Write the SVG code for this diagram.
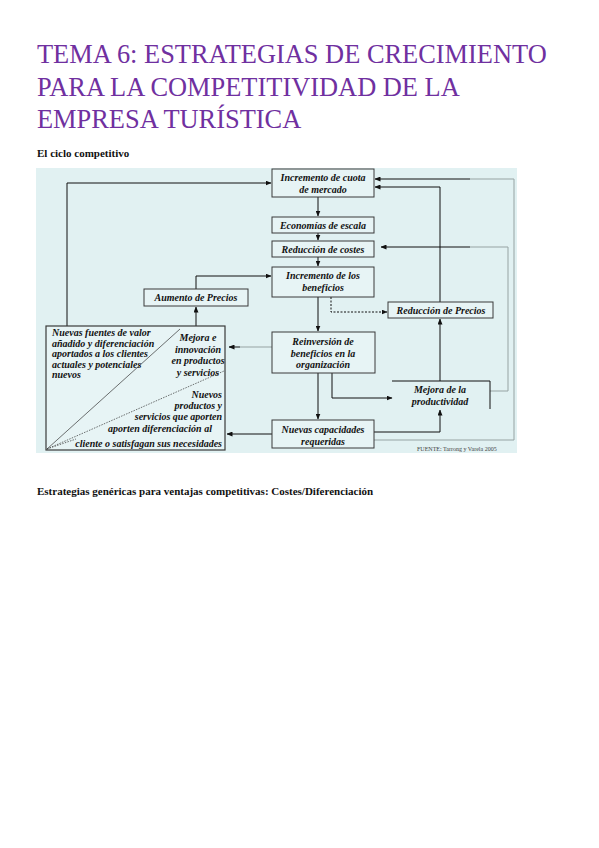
<svg xmlns="http://www.w3.org/2000/svg" width="599" height="848" viewBox="0 0 599 848">
<defs>
<marker id="ah" markerWidth="6" markerHeight="5" refX="5.5" refY="2.5" orient="auto" markerUnits="userSpaceOnUse">
<path d="M0,0 L6,2.5 L0,5 z" fill="#111"/>
</marker>
</defs>
<style>
.title{font-family:"Liberation Serif",serif;font-size:26.4px;fill:#7030a0}
.h{font-family:"Liberation Serif",serif;font-weight:bold;fill:#111}
.t{font-family:"Liberation Serif",serif;font-weight:bold;font-style:italic;font-size:10px;fill:#111}
.c{text-anchor:middle}
.r{text-anchor:end}
.box{fill:#e7f4f5;stroke:#3a3a3a;stroke-width:1}
.ln{fill:none;stroke:#111;stroke-width:1}
.gr{fill:none;stroke:#96a3a3;stroke-width:1}
.src{font-family:"Liberation Serif",serif;font-size:6px;fill:#444}
</style>
<rect width="599" height="848" fill="#ffffff"/>
<text class="title" x="37" y="63">TEMA 6: ESTRATEGIAS DE CRECIMIENTO</text>
<text class="title" x="37" y="96">PARA LA COMPETITIVIDAD DE LA</text>
<text class="title" x="37" y="128">EMPRESA TURÍSTICA</text>
<text class="h" x="37" y="157" font-size="11">El ciclo competitivo</text>
<text class="h" x="37" y="495" font-size="11">Estrategias genéricas para ventajas competitivas: Costes/Diferenciación</text>

<rect x="36" y="168" width="481" height="285" fill="#e1f1f2"/>

<g id="connectors">
<path class="ln" d="M67,326 V183 H271" marker-end="url(#ah)"/>
<path class="ln" d="M196,326 V307" marker-end="url(#ah)"/>
<path class="ln" d="M196,289 V276 H271" marker-end="url(#ah)"/>
<path class="ln" d="M318,197 V216" marker-end="url(#ah)"/>
<path class="ln" d="M318,233 V240" marker-end="url(#ah)"/>
<path class="ln" d="M318,257 V266" marker-end="url(#ah)"/>
<path class="ln" d="M318,297 V331" marker-end="url(#ah)"/>
<path class="ln" d="M331,297 V312 H387" stroke-dasharray="2,1.5" stroke="#777" marker-end="url(#ah)"/>
<path class="ln" d="M318,373 V419" marker-end="url(#ah)"/>
<path class="ln" d="M332,373 V398 H392" marker-end="url(#ah)"/>
<path class="ln" d="M374,432 H440 V410" marker-end="url(#ah)"/>
<path class="ln" d="M440,381 V319" marker-end="url(#ah)"/>
<path class="ln" d="M440,302 V187 H375" marker-end="url(#ah)"/>
<path class="gr" d="M374,440 H514 V179 H470"/>
<path class="ln" d="M470,179 H375" marker-end="url(#ah)"/>
<path class="gr" d="M490,391 H508 V247 H470"/>
<path class="ln" d="M470,247 H381" marker-end="url(#ah)"/>
<path class="gr" d="M272,347 H240"/>
<path class="ln" d="M240,347 H229" marker-end="url(#ah)"/>
<path class="ln" d="M272,434 H227" marker-end="url(#ah)"/>
</g>

<g id="n-cuota">
<rect class="box" x="272" y="169" width="102" height="28"/>
<text class="t c" x="323" y="181">Incremento de cuota</text>
<text class="t c" x="323" y="192.5">de mercado</text>
</g>
<g id="n-economias">
<rect class="box" x="272" y="217" width="102" height="16"/>
<text class="t c" x="323" y="228.5">Economías de escala</text>
</g>
<g id="n-costes">
<rect class="box" x="272" y="241" width="102" height="16"/>
<text class="t c" x="323" y="252.5">Reducción de costes</text>
</g>
<g id="n-beneficios">
<rect class="box" x="272" y="267" width="102" height="30"/>
<text class="t c" x="323" y="279">Incremento de los</text>
<text class="t c" x="323" y="291">beneficios</text>
</g>
<g id="n-precios-red">
<rect class="box" x="388" y="302" width="105" height="16"/>
<text class="t c" x="441" y="313.5">Reducción de Precios</text>
</g>
<g id="n-aumento">
<rect class="box" x="144" y="289" width="104" height="17"/>
<text class="t c" x="196" y="301">Aumento de Precios</text>
</g>
<g id="n-reinversion">
<rect class="box" x="272" y="332" width="103" height="41"/>
<text class="t c" x="323" y="345">Reinversión de</text>
<text class="t c" x="323" y="356.5">beneficios en la</text>
<text class="t c" x="323" y="368">organización</text>
</g>
<g id="n-mejora">
<path class="ln" d="M392,381 H490 V409" stroke="#333"/>
<text class="t c" x="440" y="392.5">Mejora de la</text>
<text class="t c" x="440" y="405">productividad</text>
</g>
<g id="n-capacidades">
<rect class="box" x="272" y="420" width="102" height="28"/>
<text class="t c" x="323" y="433" font-size="11">Nuevas capacidades</text>
<text class="t c" x="323" y="445" font-size="11">requeridas</text>
</g>
<g id="n-fuentes">
<rect x="46" y="326" width="179" height="124" fill="#e7f4f5" stroke="#3a3a3a" stroke-width="1.2"/>
<line x1="47" y1="449" x2="180" y2="329" stroke="#333" stroke-width="0.7"/>
<line x1="47" y1="449" x2="224" y2="371" stroke="#333" stroke-width="0.7" stroke-dasharray="1.5,1.2"/>
<line x1="47" y1="449" x2="76" y2="439" stroke="#333" stroke-width="0.7" stroke-dasharray="1.5,1.2"/>
<text class="t" x="52" y="336">Nuevas fuentes de valor</text>
<text class="t" x="52" y="346.5">añadido y diferenciación</text>
<text class="t" x="52" y="357">aportados a los clientes</text>
<text class="t" x="52" y="367.5">actuales y potenciales</text>
<text class="t" x="52" y="378">nuevos</text>
<text class="t c" x="198" y="341">Mejora e</text>
<text class="t c" x="198" y="352.5">innovación</text>
<text class="t c" x="198" y="364">en productos</text>
<text class="t c" x="198" y="375.5">y servicios</text>
<text class="t r" x="222" y="398">Nuevos</text>
<text class="t r" x="222" y="409">productos y</text>
<text class="t r" x="222" y="420">servicios que aporten</text>
<text class="t c" x="160" y="432">aporten diferenciación al</text>
<text class="t r" x="222" y="447">cliente o satisfagan sus necesidades</text>
</g>
<text class="src" x="417" y="451">FUENTE: Tarrong y Varela 2005</text>
</svg>
